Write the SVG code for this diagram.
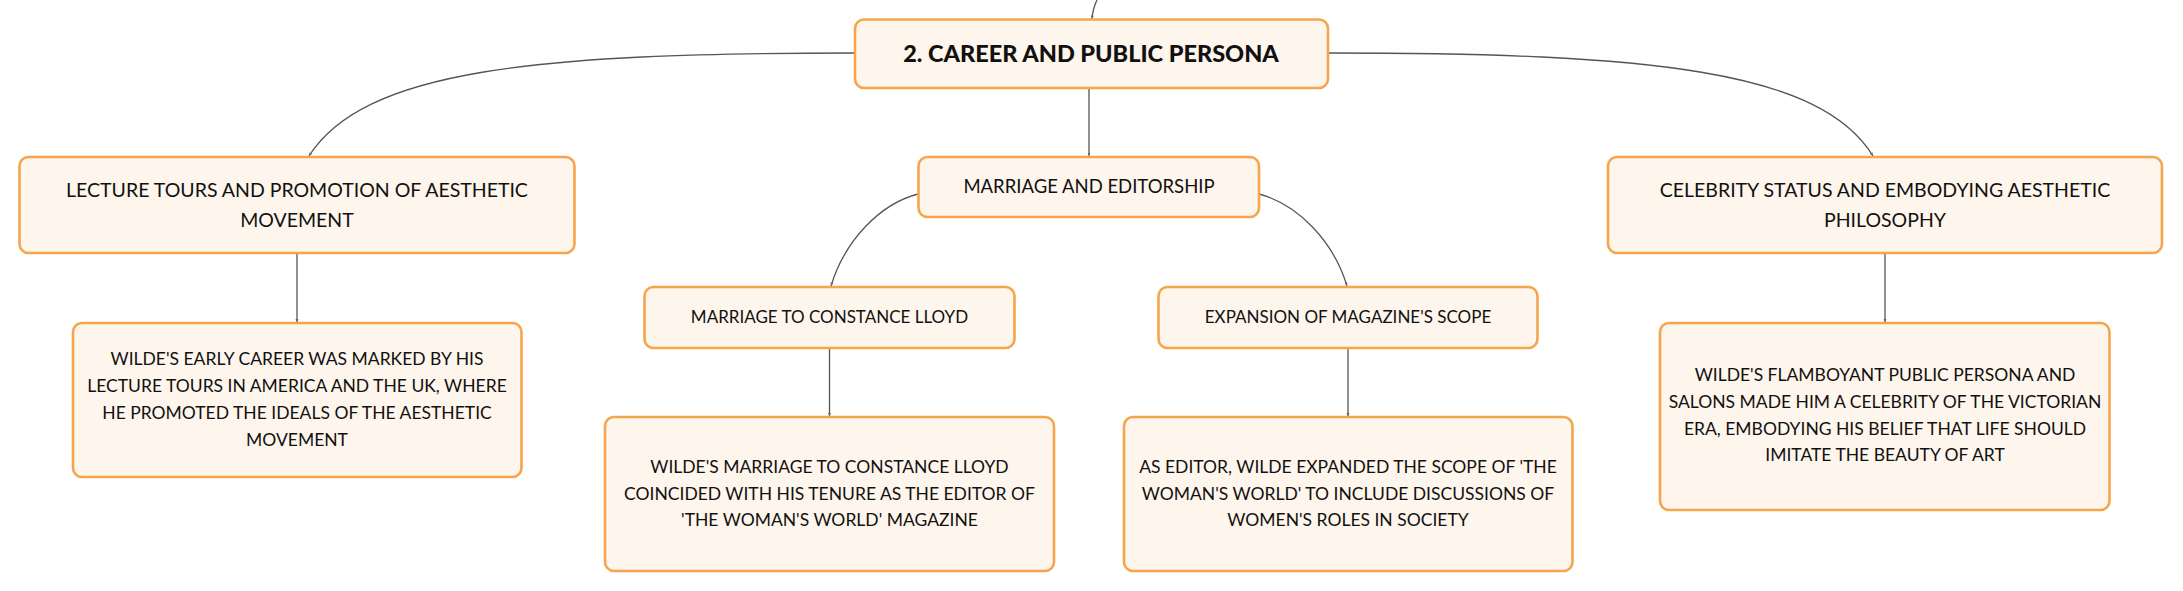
<svg xmlns="http://www.w3.org/2000/svg" width="2183" height="591" viewBox="0 0 2183 591">
<defs>
<style>
.box{fill:#fef5ec;stroke:#f5a54b;stroke-width:2.6}
.t{font-family:Lato,"Noto Sans","Liberation Sans",sans-serif;fill:#111;text-anchor:middle}
.title{font-size:23.5px;font-weight:900}
.l1{font-size:19.5px}
.l2{font-size:17px}
.d{font-size:17.5px}
.c{fill:none;stroke:#555;stroke-width:1.3}
</style>
<marker id="ah" markerWidth="4" markerHeight="4" refX="3.5" refY="2" orient="auto" markerUnits="userSpaceOnUse">
<path d="M0,0.5 L3.5,2 L0,3.5 Z" fill="#666"/>
</marker>
</defs>
<rect width="2183" height="591" fill="#ffffff"/>
<g id="connectors">
<path class="c" d="M1097,0 Q1093,8 1092,19" marker-end="url(#ah)"/>
<path class="c" d="M1089,88 L1089,156" marker-end="url(#ah)"/>
<path class="c" d="M855,53 C534,53 364,70 309,156" marker-end="url(#ah)"/>
<path class="c" d="M1329,53 C1650,53 1820,70 1873,156" marker-end="url(#ah)"/>
<path class="c" d="M297,253 L297,322.5" marker-end="url(#ah)"/>
<path class="c" d="M1885,253 L1885,322.5" marker-end="url(#ah)"/>
<path class="c" d="M918,194 C880,204 845,240 831,286" marker-end="url(#ah)"/>
<path class="c" d="M1259,194 C1297,204 1333,240 1347,286" marker-end="url(#ah)"/>
<path class="c" d="M829.5,348 L829.5,416.5" marker-end="url(#ah)"/>
<path class="c" d="M1348,348 L1348,416.5" marker-end="url(#ah)"/>
</g>
<g id="node-root">
<rect class="box" x="855" y="19.5" width="473" height="68.5" rx="9"/>
<text class="t title" x="1091" y="62">2. CAREER AND PUBLIC PERSONA</text>
</g>
<g id="node-marriage-editorship">
<rect class="box" x="918.5" y="157" width="340.5" height="60" rx="9"/>
<text class="t l1" x="1089" y="193" style="font-size:18.5px">MARRIAGE AND EDITORSHIP</text>
</g>
<g id="node-lecture">
<rect class="box" x="19.5" y="157" width="555" height="96" rx="9"/>
<text class="t l1" x="297" y="197">LECTURE TOURS AND PROMOTION OF AESTHETIC</text>
<text class="t l1" x="297" y="227">MOVEMENT</text>
</g>
<g id="node-celebrity">
<rect class="box" x="1608" y="157" width="554" height="96" rx="9"/>
<text class="t l1" x="1885" y="197">CELEBRITY STATUS AND EMBODYING AESTHETIC</text>
<text class="t l1" x="1885" y="227">PHILOSOPHY</text>
</g>
<g id="node-lecture-detail">
<rect class="box" x="73" y="323" width="448.5" height="154" rx="9"/>
<text class="t d" x="297" y="365">WILDE'S EARLY CAREER WAS MARKED BY HIS</text>
<text class="t d" x="297" y="392">LECTURE TOURS IN AMERICA AND THE UK, WHERE</text>
<text class="t d" x="297" y="419">HE PROMOTED THE IDEALS OF THE AESTHETIC</text>
<text class="t d" x="297" y="446">MOVEMENT</text>
</g>
<g id="node-constance">
<rect class="box" x="644.5" y="287" width="370" height="61" rx="9"/>
<text class="t l2" x="829.5" y="323">MARRIAGE TO CONSTANCE LLOYD</text>
</g>
<g id="node-expansion">
<rect class="box" x="1158.5" y="287" width="379" height="61" rx="9"/>
<text class="t l2" x="1348" y="323">EXPANSION OF MAGAZINE'S SCOPE</text>
</g>
<g id="node-constance-detail">
<rect class="box" x="605" y="417" width="449" height="154" rx="9"/>
<text class="t d" x="829.5" y="473">WILDE'S MARRIAGE TO CONSTANCE LLOYD</text>
<text class="t d" x="829.5" y="499.5">COINCIDED WITH HIS TENURE AS THE EDITOR OF</text>
<text class="t d" x="829.5" y="526">'THE WOMAN'S WORLD' MAGAZINE</text>
</g>
<g id="node-expansion-detail">
<rect class="box" x="1124" y="417" width="448.5" height="154" rx="9"/>
<text class="t d" x="1348" y="473">AS EDITOR, WILDE EXPANDED THE SCOPE OF 'THE</text>
<text class="t d" x="1348" y="499.5">WOMAN'S WORLD' TO INCLUDE DISCUSSIONS OF</text>
<text class="t d" x="1348" y="526">WOMEN'S ROLES IN SOCIETY</text>
</g>
<g id="node-celebrity-detail">
<rect class="box" x="1660" y="323" width="449.5" height="187" rx="9"/>
<text class="t d" x="1885" y="381">WILDE'S FLAMBOYANT PUBLIC PERSONA AND</text>
<text class="t d" x="1885" y="408">SALONS MADE HIM A CELEBRITY OF THE VICTORIAN</text>
<text class="t d" x="1885" y="434.5">ERA, EMBODYING HIS BELIEF THAT LIFE SHOULD</text>
<text class="t d" x="1885" y="461">IMITATE THE BEAUTY OF ART</text>
</g>
</svg>
